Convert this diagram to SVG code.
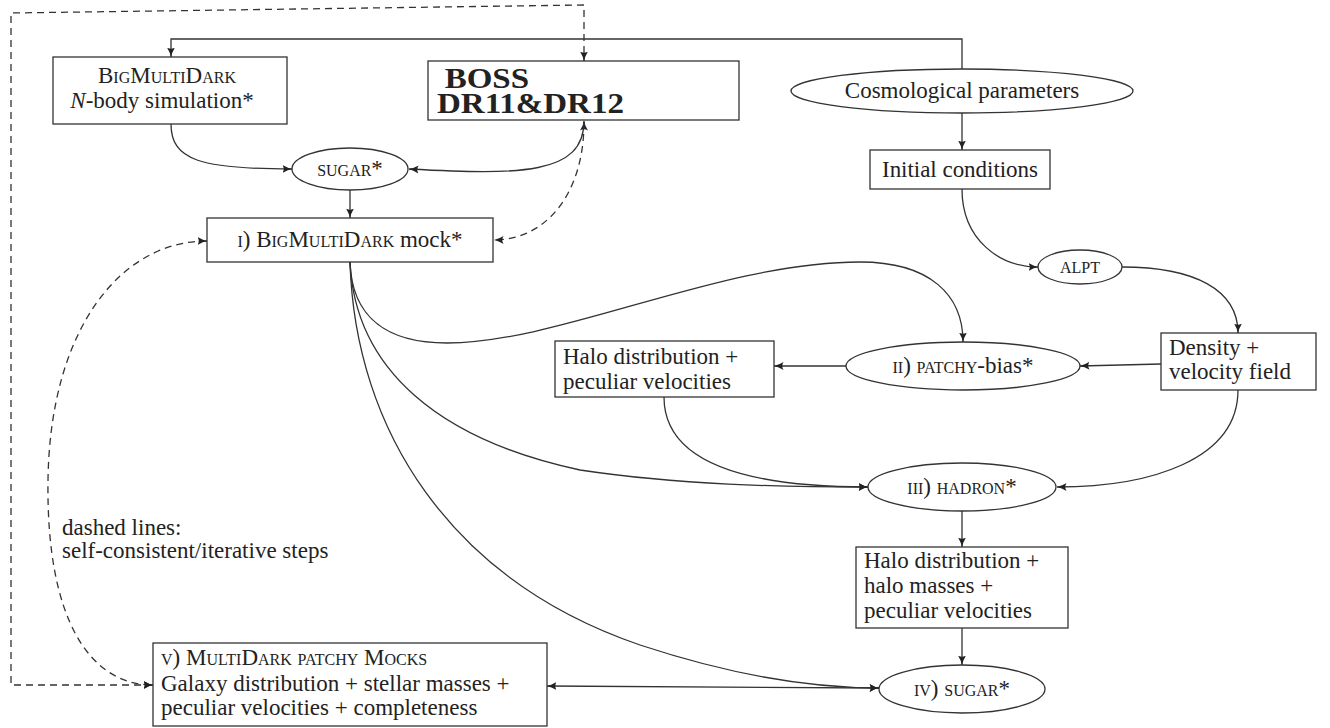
<svg xmlns="http://www.w3.org/2000/svg" width="1330" height="728" viewBox="0 0 1330 728">
<defs>
<marker id="arr" viewBox="0 0 10 10" refX="9.5" refY="5" markerWidth="10" markerHeight="10" markerUnits="userSpaceOnUse" orient="auto-start-reverse">
<path d="M0,1 Q5,4.2 10,5 Q5,5.8 0,9 Q2.5,5 0,1 Z" fill="#222"/>
</marker>
</defs>
<style>
.box{fill:#fff;stroke:#333;stroke-width:1.3}
.ln{fill:none;stroke:#333;stroke-width:1.3}
.ds{stroke-dasharray:7 5}
text{font-family:'Liberation Serif','Times New Roman',Tinos,Times,'DejaVu Serif',serif;font-size:23px;fill:#222}
.sc{font-variant:small-caps}
.c{text-anchor:middle}
.b{font-weight:bold;font-size:30px}
</style>
<rect width="1330" height="728" fill="#fff"/>
<g id="connectors">
<path class="ln" d="M962,69 L962,39 L171,39 L171,57" marker-end="url(#arr)"/>
<path class="ln ds" d="M153,685 L11,685 L11,13 L584,5 L584,61" marker-start="url(#arr)" marker-end="url(#arr)"/>
<path class="ln" d="M962,113 L962,150" marker-end="url(#arr)"/>
<path class="ln" d="M962,189 C962,240 1000,267 1038,267" marker-end="url(#arr)"/>
<path class="ln" d="M1122,267 C1195,267 1238,290 1238,333" marker-end="url(#arr)"/>
<path class="ln" d="M1161,364 L1080,366" marker-end="url(#arr)"/>
<path class="ln" d="M846,366 L774,366" marker-end="url(#arr)"/>
<path class="ln" d="M171,124 C171,160 200,169 292,169" marker-end="url(#arr)"/>
<path class="ln" d="M409,169 C520,175 584,175 584,121" marker-start="url(#arr)" marker-end="url(#arr)"/>
<path class="ln" d="M350,190 L350,218" marker-end="url(#arr)"/>
<path class="ln ds" d="M584,122 C584,195 545,240 494,240" marker-end="url(#arr)"/>
<path class="ln ds" d="M207,241 C120,241 50,330 48,480 C46,620 90,685 153,685" marker-start="url(#arr)" marker-end="url(#arr)"/>
<path class="ln" d="M350,262 C352,320 390,343 447,343 C560,343 720,262 860,262 C930,262 963,295 963,342" marker-end="url(#arr)"/>
<path class="ln" d="M350,262 C355,370 440,440 580,470 C680,485 780,487 868,487" marker-end="url(#arr)"/>
<path class="ln" d="M350,262 C355,430 450,580 640,645 C740,678 820,688 879,688" marker-end="url(#arr)"/>
<path class="ln" d="M664,397 C664,460 740,487 868,487" marker-end="url(#arr)"/>
<path class="ln" d="M1238,390 C1238,460 1150,487 1057,487" marker-end="url(#arr)"/>
<path class="ln" d="M962,511 L962,547" marker-end="url(#arr)"/>
<path class="ln" d="M962,628 L962,665" marker-end="url(#arr)"/>
<path class="ln" d="M547,686 L879,688" marker-start="url(#arr)" marker-end="url(#arr)"/>
</g>
<g id="bigmultidark">
<rect class="box" x="53" y="57" width="234" height="67"/>
<text class="c sc" x="167" y="83">BigMultiDark</text>
<text class="c" x="162" y="108"><tspan font-style="italic">N</tspan>-body simulation*</text>
</g>
<g id="boss">
<rect class="box" x="428" y="61" width="311" height="59"/>
<g transform="translate(437,0) scale(1.1,1)">
<text class="b"><tspan x="7" y="88">BOSS</tspan><tspan x="0" y="113">DR11&amp;DR12</tspan></text>
</g>
</g>
<g id="cosmo">
<ellipse class="box" cx="962" cy="91" rx="171" ry="22"/>
<text class="c" x="962" y="98">Cosmological parameters</text>
</g>
<g id="initial">
<rect class="box" x="870" y="150" width="180" height="39"/>
<text class="c" x="960" y="177" textLength="156">Initial conditions</text>
</g>
<g id="sugar1">
<ellipse class="box" cx="350" cy="169" rx="58" ry="21"/>
<text class="c sc" x="350" y="176">sugar*</text>
</g>
<g id="mock">
<rect class="box" x="207" y="218" width="286" height="44"/>
<text class="c" x="350" y="247"><tspan class="sc">i) BigMultiDark</tspan> mock*</text>
</g>
<g id="alpt">
<ellipse class="box" cx="1080" cy="267" rx="42" ry="17"/>
<text class="c sc" x="1080" y="273">alpt</text>
</g>
<g id="density">
<rect class="box" x="1161" y="333" width="155" height="57"/>
<text x="1169" y="355">Density +</text>
<text x="1169" y="379">velocity field</text>
</g>
<g id="patchy">
<ellipse class="box" cx="963" cy="366" rx="117" ry="24"/>
<text class="c" x="963" y="373"><tspan class="sc">ii) patchy</tspan>-bias*</text>
</g>
<g id="halo1">
<rect class="box" x="555" y="341" width="219" height="56"/>
<text x="563" y="364">Halo distribution +</text>
<text x="563" y="389">peculiar velocities</text>
</g>
<g id="hadron">
<ellipse class="box" cx="962" cy="487" rx="94" ry="24"/>
<text class="c sc" x="962" y="494">iii) hadron*</text>
</g>
<g id="halo2">
<rect class="box" x="856" y="547" width="212" height="81"/>
<text x="864" y="568">Halo distribution +</text>
<text x="864" y="593">halo masses +</text>
<text x="864" y="618">peculiar velocities</text>
</g>
<g id="sugar4">
<ellipse class="box" cx="962" cy="689" rx="83" ry="24"/>
<text class="c sc" x="962" y="696">iv) sugar*</text>
</g>
<g id="patchymocks">
<rect class="box" x="153" y="643" width="394" height="83"/>
<text class="sc" x="161" y="665">v) MultiDark patchy Mocks</text>
<text x="161" y="691">Galaxy distribution + stellar masses +</text>
<text x="161" y="715">peculiar velocities + completeness</text>
</g>
<g id="note">
<text x="62" y="535">dashed lines:</text>
<text x="62" y="558">self-consistent/iterative steps</text>
</g>
</svg>
